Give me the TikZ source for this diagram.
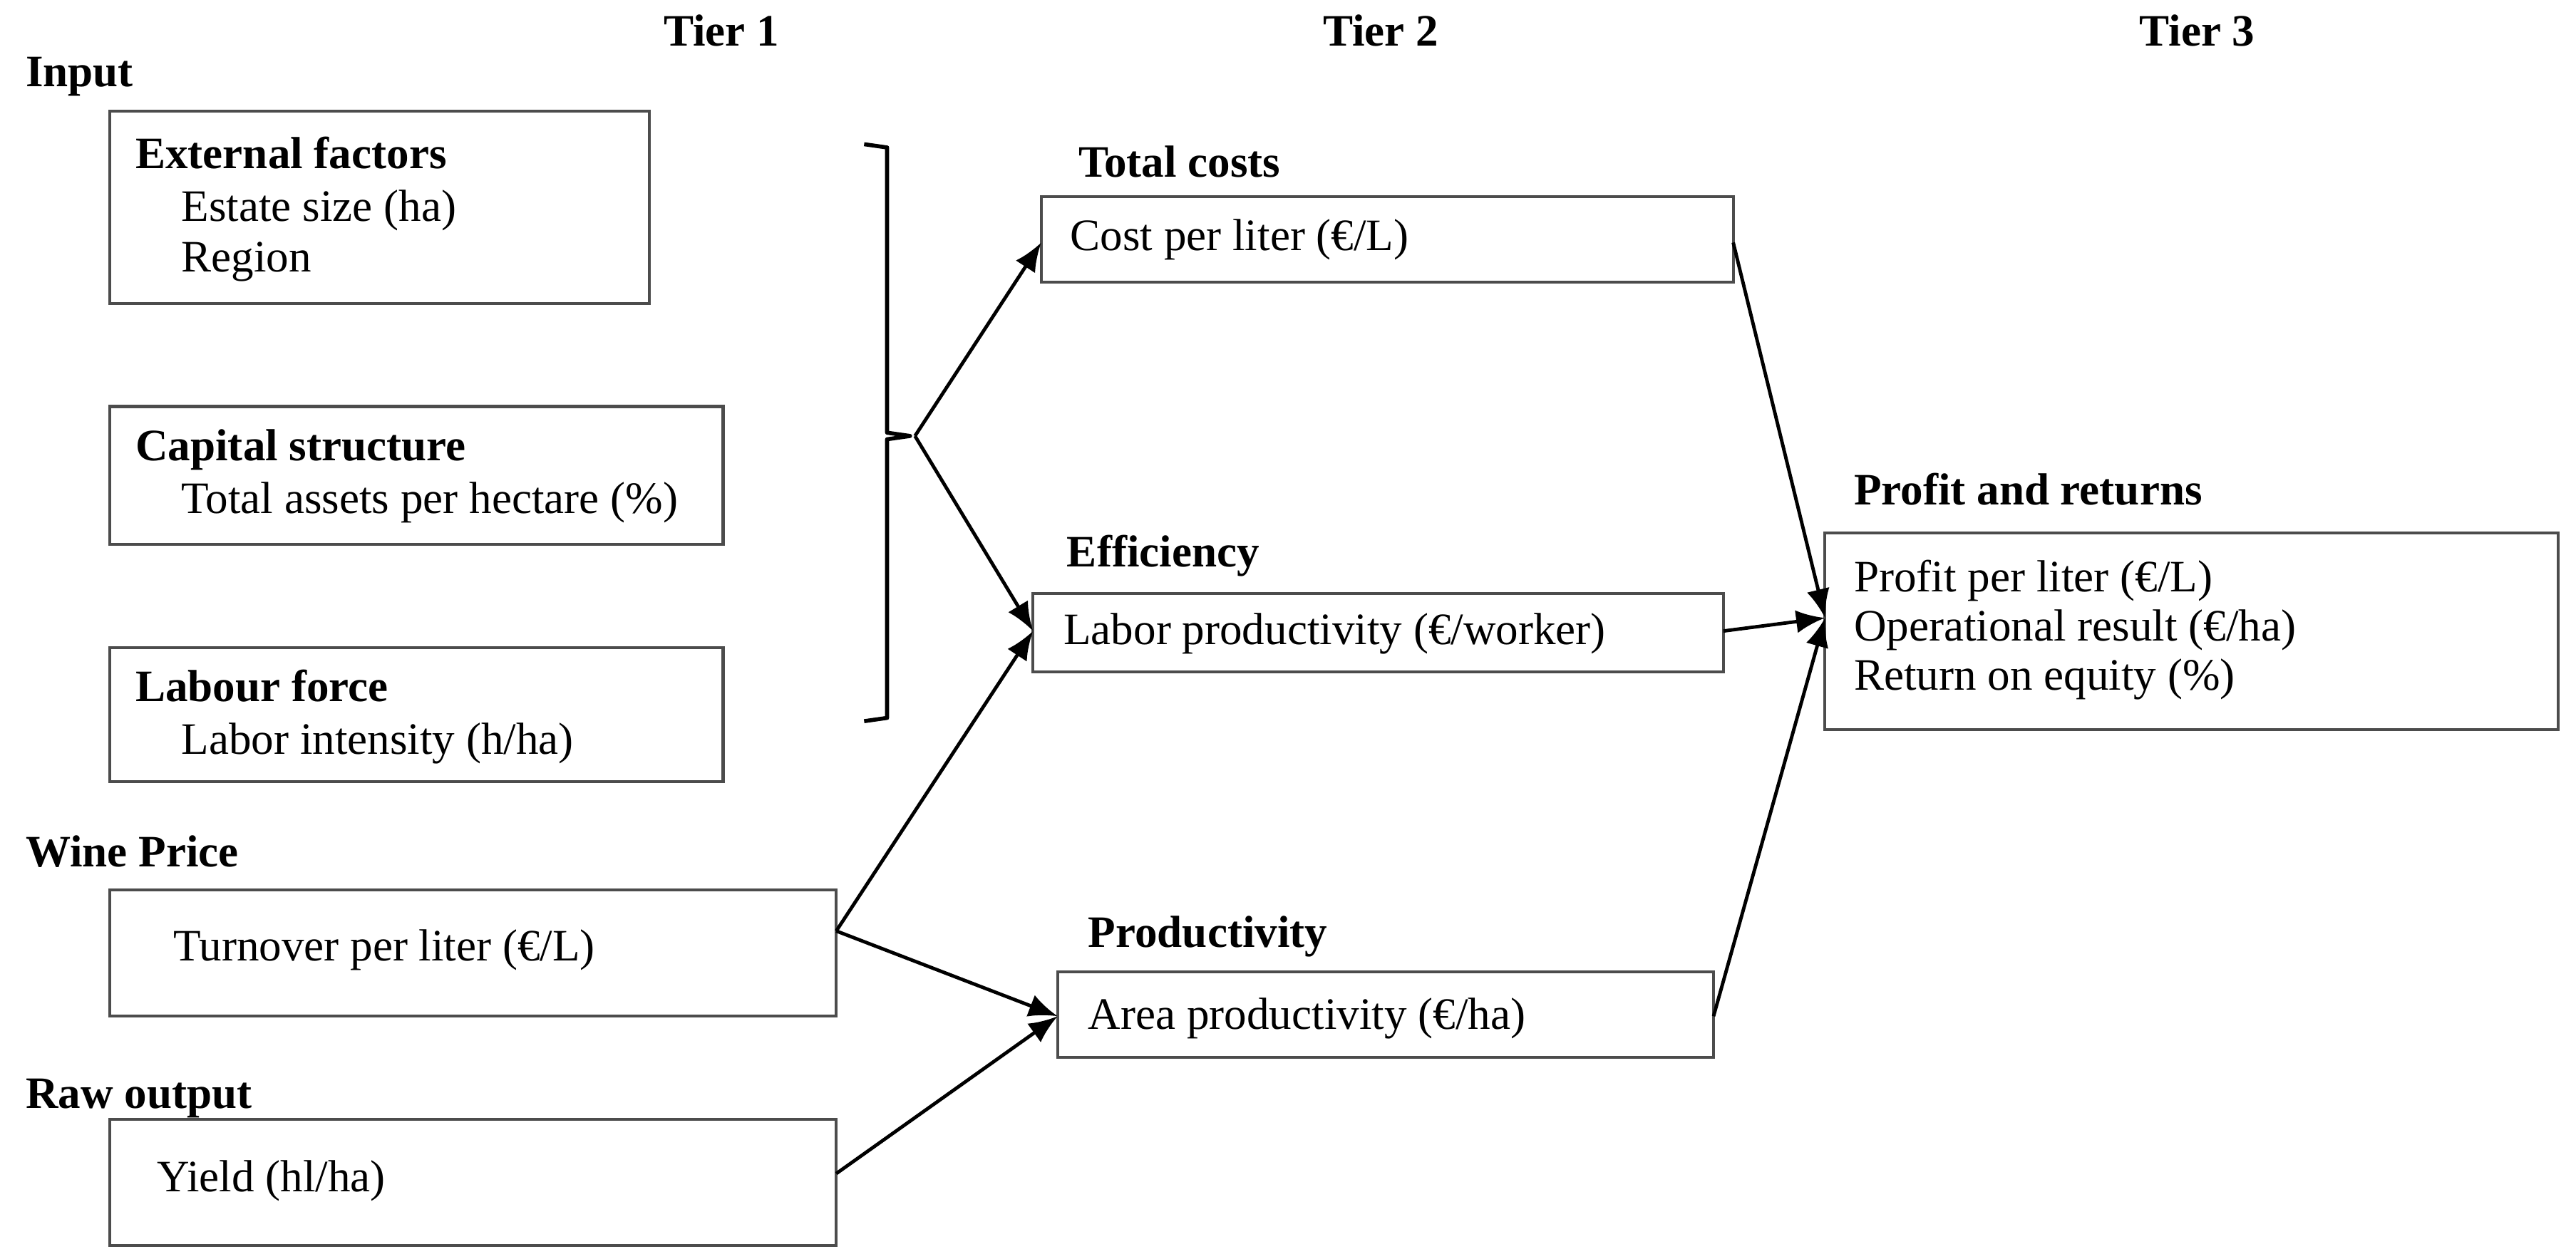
\documentclass[tikz,border=0pt]{standalone}
\usepackage{fontspec}
\setmainfont{Liberation Serif}
\usetikzlibrary{arrows.meta}
\begin{document}
\begin{tikzpicture}[x=0.01cm,y=-0.01cm,font=\fontsize{7.8}{9}\selectfont,
 every node/.style={inner sep=0pt},
 bx/.style={draw=black!70,line width=0.5pt},
 hd/.style={anchor=base west,font=\fontsize{7.8}{9}\selectfont\bfseries},
 tx/.style={anchor=base west},
 arr/.style={-{Latex[length=5pt,width=4pt]},line width=0.6pt}]
\useasboundingbox (0,0) rectangle (1571,765);
\node[hd,anchor=base] (t1) at (440,28) {Tier 1};
\node[hd,anchor=base] (t2) at (842,28) {Tier 2};
\node[hd,anchor=base] (t3) at (1340,28) {Tier 3};
\node[hd] (in) at (15,53) {Input};
% boxes
\draw[bx] (67,68) rectangle (396,185);
\node[hd] (ef) at (82,103) {External factors};
\node[tx] (es) at (110,135) {Estate size (ha)};
\node[tx] (rg) at (110,166) {Region};
\draw[bx] (67,248) rectangle (441,332);
\node[hd] (cs) at (82,281) {Capital structure};
\node[tx] (ta) at (110,313) {Total assets per hectare (\%)};
\draw[bx] (67,395) rectangle (441,477);
\node[hd] (lf) at (82,428) {Labour force};
\node[tx] (li) at (110,460) {Labor intensity (h/ha)};
\node[hd] (wp) at (15,529) {Wine Price};
\draw[bx] (67,543) rectangle (510,620);
\node[tx] (to) at (105,586) {Turnover per liter (€/L)};
\coordinate (toR) at (510,568);
\node[hd] (ro) at (15,676) {Raw output};
\draw[bx] (67,683) rectangle (510,760);
\node[tx] (yd) at (95,727) {Yield (hl/ha)};
\coordinate (ydR) at (510,716);
% bracket
\draw[line width=0.7pt,line join=round] (527,88) -- (541,90) -- (541,264) -- (555,266) -- (541,268) -- (541,438) -- (527,440);
\coordinate (br) at (558,266);
% tier 2
\node[hd] (tc) at (657,108) {Total costs};
\draw[bx] (635,120) rectangle (1057,172);
\node[tx] (cl) at (652,153) {Cost per liter (€/L)};
\coordinate (cL) at (635,148); \coordinate (cR) at (1057,148);
\node[hd] (efy) at (650,346) {Efficiency};
\draw[bx] (630,362) rectangle (1051,410);
\node[tx] (lp) at (648,393) {Labor productivity (€/worker)};
\coordinate (lL) at (630,385); \coordinate (lR) at (1051,385);
\node[hd] (pr) at (663,578) {Productivity};
\draw[bx] (645,593) rectangle (1045,645);
\node[tx] (ap) at (663,628) {Area productivity (€/ha)};
\coordinate (aL) at (645,620); \coordinate (aR) at (1045,620);
% tier 3
\node[hd] (pa) at (1130,308) {Profit and returns};
\draw[bx] (1113,325) rectangle (1560,445);
\node[tx] (p1) at (1130,361) {Profit per liter (€/L)};
\node[tx] (p2) at (1130,391) {Operational result (€/ha)};
\node[tx] (p3) at (1130,421) {Return on equity (\%)};
\coordinate (pL) at (1113,377);
% arrows
\draw[arr] (br) -- (cL);
\draw[arr] (br) -- (lL);
\draw[arr] (toR) -- (lL);
\draw[arr] (toR) -- (aL);
\draw[arr] (ydR) -- (aL);
\draw[arr] (cR) -- (pL);
\draw[arr] (lR) -- (pL);
\draw[arr] (aR) -- (pL);
\end{tikzpicture}
\end{document}
